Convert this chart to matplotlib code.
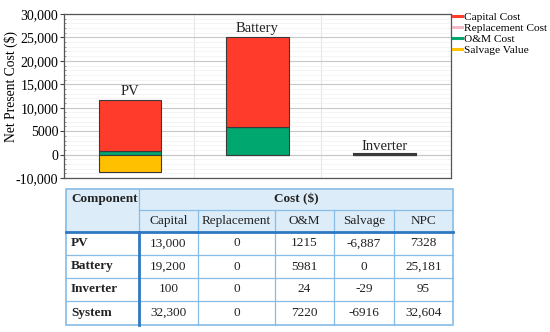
import matplotlib
matplotlib.use('Agg')
from matplotlib import pyplot as plt
from matplotlib.patches import Rectangle
from matplotlib.lines import Line2D
import numpy as np

plt.rcParams['font.family'] = ['Liberation Serif', 'DejaVu Serif']

# chart data
components = ['PV', 'Battery', 'Inverter']
capital_cost = [11000, 19200, 100]
replacement_cost = [0, 0, 0]
om_cost = [750, 5980, 24]
salvage_value = [-3700, 0, -29]

ytick_vals = [-5000, 0, 5000, 10000, 15000, 20000, 25000, 30000]
ytick_labels = ['-10,000', '0', '5000', '10,000', '15,000', '20,000', '25,000', '30,000']

# table data
col_heads = ['Capital', 'Replacement', 'O&M', 'Salvage', 'NPC']
row_heads = ['PV', 'Battery', 'Inverter', 'System']
table_vals = [
    ['13,000', '0', '1215', '-6,887', '7328'],
    ['19,200', '0', '5981', '0', '25,181'],
    ['100', '0', '24', '-29', '95'],
    ['32,300', '0', '7220', '-6916', '32,604'],
]

c_cap = '#FF3B2B'
c_rep = '#F4B8C6'
c_om = '#00A870'
c_sal = '#FFC000'

fig = plt.figure(figsize=(5.5, 3.32), dpi=100)
ax = fig.add_axes([64/550, 1-178/332, (451-64)/550, (178-14)/332])

x = np.arange(len(components))
w = 0.49
edge = dict(edgecolor='#3a3a3a', linewidth=0.8)
ax.bar(x, om_cost, w, color=c_om, zorder=3, **edge)
ax.bar(x, replacement_cost, w, bottom=om_cost, color=c_rep, zorder=3, **edge)
bot = np.array(om_cost) + np.array(replacement_cost)
ax.bar(x[:2], capital_cost[:2], w, bottom=bot[:2], color=c_cap, zorder=3, **edge)
ax.bar(x, salvage_value, w, color=c_sal, zorder=3, **edge)
# inverter is too small to see, shown as a dark line
ax.bar(x[2], capital_cost[2], w, color='#3a3a3a', edgecolor='#3a3a3a', linewidth=1.5, zorder=3)

tops = [bot[i] + (capital_cost[i] if i < 2 else 0) for i in range(3)]
for i, name in enumerate(components):
    ax.text(x[i], tops[i] + 350, name, ha='center', va='bottom', fontsize=10.5, color='#222222')

ax.set_xlim(-0.52, 2.52)
ax.set_ylim(-5000, 30000)
ax.set_yticks(ytick_vals)
ax.set_yticklabels(ytick_labels, fontsize=10)
ax.set_yticks(np.arange(-5000, 30001, 1000), minor=True)
ax.set_xticks([])
ax.set_ylabel('Net Present Cost ($)', fontsize=9.8)
ax.yaxis.set_label_coords(-0.118, 0.56)
ax.tick_params(axis='y', which='major', length=3, pad=1, color='#444444')
ax.tick_params(axis='y', which='minor', length=1.5, direction='in', color='#888888')
ax.grid(axis='y', which='major', color='#c8c8c8', linewidth=0.8, zorder=0)
ax.grid(axis='y', which='minor', color='#f0f0f0', linewidth=0.5, zorder=0)
for xv in [0.5, 1.5]:
    ax.axvline(xv, color='#e6e6e6', linewidth=0.8, zorder=0)
ax.axhline(0, color='#c8c8c8', linewidth=0.8, zorder=1)
for s in ax.spines.values():
    s.set_color('#555555')
    s.set_linewidth(0.9)

handles = [Line2D([], [], color=c, linewidth=2.2) for c in [c_cap, c_rep, c_om, c_sal]]
leg = fig.legend(handles, ['Capital Cost', 'Replacement Cost', 'O&M Cost', 'Salvage Value'],
                 loc='upper left', bbox_to_anchor=(453/550, 1-12/332), frameon=False,
                 fontsize=8.2, handlelength=0.75, handletextpad=0.2, labelspacing=0.08,
                 borderpad=0, borderaxespad=0)

# table drawn on an overlay in pixel coordinates
tab = fig.add_axes([0, 0, 1, 1])
tab.set_xlim(0, 550)
tab.set_ylim(332, 0)
tab.axis('off')

cx = [66, 139, 198, 275, 334, 394, 453]
ry = [189, 209.5, 232, 255, 278, 301, 325]
head_bg = '#DCEDF9'
thin = '#86BCE5'
thick = '#2E78C2'

tab.add_patch(Rectangle((cx[0], ry[0]), cx[-1]-cx[0], ry[2]-ry[0], facecolor=head_bg, edgecolor='none'))
tab.add_patch(Rectangle((cx[0], ry[2]), cx[-1]-cx[0], ry[-1]-ry[2], facecolor='white', edgecolor='none'))
# thin grid
for yy in ry[3:-1]:
    tab.plot([cx[0], cx[-1]], [yy, yy], color=thin, lw=0.9)
tab.plot([cx[1], cx[-1]], [ry[1], ry[1]], color=thin, lw=0.9)
tab.plot([cx[1], cx[1]], [ry[0], ry[2]], color=thin, lw=0.9)
for xx in cx[2:-1]:
    tab.plot([xx, xx], [ry[1], ry[-1]], color=thin, lw=0.9)
tab.add_patch(Rectangle((cx[0], ry[0]), cx[-1]-cx[0], ry[-1]-ry[0], facecolor='none', edgecolor=thin, lw=1.2))
# thick lines
tab.plot([cx[0], cx[-1]], [ry[2], ry[2]], color=thick, lw=2.0)
tab.plot([cx[1], cx[1]], [ry[2], ry[-1]], color=thick, lw=2.0)

fs = 9.5
tab.text(cx[0] + 5, (ry[0]+ry[1])/2, 'Component', ha='left', va='center', fontsize=fs, fontweight='bold', color='#222222')
tab.text((cx[1]+cx[-1])/2, (ry[0]+ry[1])/2, 'Cost ($)', ha='center', va='center', fontsize=fs, fontweight='bold', color='#222222')
for j, h in enumerate(col_heads):
    tab.text((cx[j+1]+cx[j+2])/2, (ry[1]+ry[2])/2, h, ha='center', va='center', fontsize=fs, color='#222222')
for i, r in enumerate(row_heads):
    yc = (ry[i+2]+ry[i+3])/2
    tab.text(cx[0] + 5, yc, r, ha='left', va='center', fontsize=fs, fontweight='bold', color='#222222')
    for j, v in enumerate(table_vals[i]):
        tab.text((cx[j+1]+cx[j+2])/2, yc, v, ha='center', va='center', fontsize=fs, color='#222222')

fig.savefig('out.png', dpi=100)
